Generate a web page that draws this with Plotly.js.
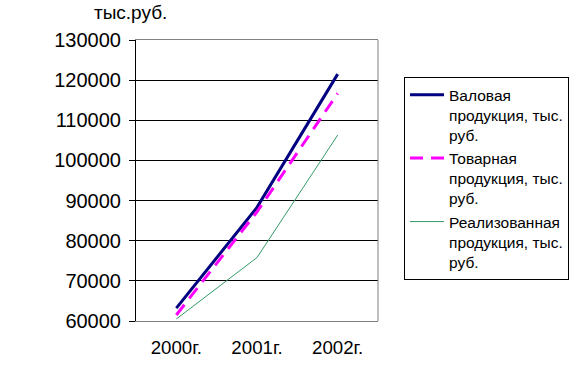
<!DOCTYPE html>
<html>
<head>
<meta charset="utf-8">
<script src="https://cdn.plot.ly/plotly-3.0.1.min.js"></script>
<style>html,body{margin:0;padding:0;background:#fff;}#chart{width:580px;height:372px;}</style>
</head>
<body>
<div id="chart"></div>
<script>
var years = ['2000г.', '2001г.', '2002г.'];
var grossOutput = [63200, 88300, 121500];
var commodityOutput = [61500, 87200, 116700];
var soldOutput = [60500, 75800, 106300];
var seriesNames = ['Валовая<br>продукция, тыс.<br>руб.', 'Товарная<br>продукция, тыс.<br>руб.', 'Реализованная<br>продукция, тыс.<br>руб.'];
var yTicks = [60000, 70000, 80000, 90000, 100000, 110000, 120000, 130000];

var font = 'Liberation Sans, Arial, sans-serif';
var traces = [
  {x: years, y: grossOutput, name: seriesNames[0], type: 'scatter', mode: 'lines',
   line: {color: '#000080', width: 3}},
  {x: years, y: commodityOutput, name: seriesNames[1], type: 'scatter', mode: 'lines',
   line: {color: '#FF00FF', width: 3, dash: '13px,8px'}},
  {x: years, y: soldOutput, name: seriesNames[2], type: 'scatter', mode: 'lines',
   line: {color: '#339966', width: 1}}
];
var layout = {
  width: 580, height: 372,
  margin: {l: 136, r: 201, t: 40, b: 51, pad: 0},
  paper_bgcolor: '#fff', plot_bgcolor: '#fff',
  font: {family: font, color: '#000', size: 18},
  title: {text: 'тыс.руб.', font: {family: font, size: 19, color: '#000'},
          xref: 'container', x: 0.162, xanchor: 'left', yref: 'container', y: 0.985, yanchor: 'top'},
  showlegend: true,
  xaxis: {type: 'category', range: [-0.5, 2.5], showgrid: false, zeroline: false,
          showline: true, linecolor: '#808080', linewidth: 1, mirror: true,
          ticks: '', tickfont: {family: font, size: 18.7, color: '#000'}, ticklabelstandoff: 10},
  yaxis: {range: [60000, 130000], tickvals: yTicks, ticktext: yTicks.map(String),
          showgrid: true, gridcolor: '#000', gridwidth: 1, zeroline: false,
          showline: true, linecolor: '#000', linewidth: 1,
          ticks: 'outside', ticklen: 6, tickcolor: '#000', tickwidth: 1,
          ticklabelstandoff: 4,
          tickfont: {family: font, size: 20, color: '#000'}},
  legend: {x: 1.103, xanchor: 'left', y: 0.868, yanchor: 'top', valign: 'top',
           bordercolor: '#000', borderwidth: 1, bgcolor: '#fff', itemwidth: 34,
           font: {family: font, size: 15.5, color: '#000'}, tracegroupgap: 0},
  shapes: [{type: 'line', xref: 'paper', yref: 'paper', x0: 1, x1: 1, y0: 0, y1: 1,
            line: {color: '#808080', width: 1}}]
};
Plotly.newPlot('chart', traces, layout, {displayModeBar: false, staticPlot: true});
</script>
</body>
</html>
